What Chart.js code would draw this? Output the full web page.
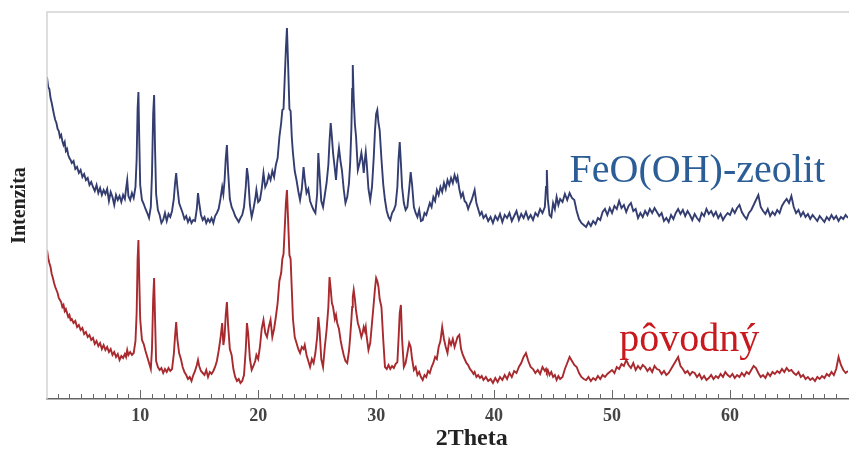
<!DOCTYPE html>
<html>
<head>
<meta charset="utf-8">
<title>XRD - FeO(OH)-zeolit</title>
<script src="https://cdn.jsdelivr.net/npm/chart.js@4.4.0/dist/chart.umd.min.js"></script>
<style>
    html, body { margin: 0; padding: 0; background: #fff; }
    #wrap { width: 849px; height: 452px; position: relative; }
</style>
</head>
<body>
<div id="wrap"><canvas id="xrdChart"></canvas></div>
<script>
// 2Theta positions shared by both patterns
const twoTheta = [
    2.1, 2.2, 2.3, 2.4, 2.5, 2.6, 2.7, 2.8, 2.9, 3.0,
    3.1, 3.2, 3.3, 3.4, 3.5, 3.6, 3.7, 3.8, 3.9, 4.0,
    4.1, 4.2, 4.35, 4.5, 4.65, 4.8, 4.95, 5.1, 5.25, 5.4,
    5.55, 5.7, 5.85, 6.0, 6.15, 6.3, 6.45, 6.6, 6.75, 6.9,
    7.05, 7.2, 7.35, 7.5, 7.65, 7.8, 7.95, 8.1, 8.25, 8.4,
    8.55, 8.7, 8.8, 8.9, 9.0, 9.15, 9.3, 9.45, 9.6, 9.7,
    9.78, 9.85, 9.92, 10.0, 10.15, 10.3, 10.45, 10.6, 10.75, 10.9,
    11.0, 11.1, 11.18, 11.26, 11.35, 11.5, 11.65, 11.8, 11.95, 12.1,
    12.25, 12.4, 12.55, 12.7, 12.85, 12.95, 13.05, 13.15, 13.3, 13.45,
    13.6, 13.75, 13.9, 14.05, 14.2, 14.35, 14.5, 14.65, 14.8, 14.9,
    15.0, 15.15, 15.3, 15.45, 15.6, 15.75, 15.9, 16.05, 16.2, 16.35,
    16.5, 16.65, 16.8, 16.95, 17.05, 17.15, 17.25, 17.35, 17.45, 17.6,
    17.75, 17.9, 18.05, 18.2, 18.35, 18.5, 18.65, 18.8, 18.95, 19.05,
    19.15, 19.3, 19.45, 19.6, 19.75, 19.85, 20.0, 20.15, 20.3, 20.45,
    20.6, 20.75, 20.9, 21.05, 21.2, 21.35, 21.5, 21.65, 21.8, 21.95,
    22.05, 22.15, 22.25, 22.35, 22.44, 22.55, 22.65, 22.75, 22.85, 22.95,
    23.1, 23.25, 23.4, 23.55, 23.7, 23.85, 23.95, 24.1, 24.25, 24.4,
    24.55, 24.7, 24.85, 25.0, 25.1, 25.2, 25.35, 25.5, 25.65, 25.8,
    25.95, 26.05, 26.15, 26.25, 26.35, 26.5, 26.6, 26.7, 26.85, 27.0,
    27.1, 27.25, 27.4, 27.55, 27.7, 27.8, 27.9, 27.97, 28.02, 28.1,
    28.2, 28.3, 28.45, 28.6, 28.75, 28.85, 28.95, 29.05, 29.12, 29.2,
    29.35, 29.5, 29.65, 29.8, 29.9, 30.0, 30.1, 30.2, 30.3, 30.45,
    30.6, 30.75, 30.9, 31.05, 31.2, 31.35, 31.5, 31.65, 31.8, 31.9,
    32.0, 32.1, 32.2, 32.35, 32.5, 32.65, 32.8, 32.93, 33.05, 33.2,
    33.35, 33.5, 33.65, 33.8, 33.95, 34.1, 34.25, 34.4, 34.55, 34.7,
    34.85, 35.0, 35.15, 35.3, 35.45, 35.6, 35.75, 35.9, 36.05, 36.2,
    36.35, 36.5, 36.65, 36.8, 36.9, 37.05, 37.2, 37.35, 37.5, 37.65,
    37.8, 37.95, 38.1, 38.25, 38.35, 38.5, 38.65, 38.8, 38.95, 39.1,
    39.3, 39.5, 39.7, 39.9, 40.1, 40.3, 40.5, 40.7, 40.9, 41.1,
    41.3, 41.5, 41.7, 41.9, 42.1, 42.3, 42.5, 42.7, 42.9, 43.1,
    43.3, 43.5, 43.7, 43.9, 44.1, 44.3, 44.4, 44.47, 44.55, 44.7,
    44.85, 45.0, 45.15, 45.3, 45.45, 45.6, 45.8, 46.0, 46.2, 46.4,
    46.6, 46.8, 47.0, 47.2, 47.4, 47.6, 47.8, 48.0, 48.2, 48.4,
    48.6, 48.8, 49.0, 49.2, 49.4, 49.6, 49.8, 50.0, 50.2, 50.4,
    50.6, 50.8, 51.0, 51.2, 51.4, 51.6, 51.8, 52.0, 52.2, 52.4,
    52.6, 52.8, 53.0, 53.2, 53.4, 53.6, 53.8, 54.0, 54.2, 54.4,
    54.6, 54.8, 55.0, 55.2, 55.4, 55.6, 55.8, 56.0, 56.2, 56.4,
    56.6, 56.8, 57.0, 57.2, 57.4, 57.6, 57.8, 58.0, 58.2, 58.4,
    58.6, 58.8, 59.0, 59.2, 59.4, 59.6, 59.8, 60.0, 60.2, 60.4,
    60.6, 60.8, 61.0, 61.2, 61.4, 61.6, 61.8, 62.0, 62.2, 62.4,
    62.6, 62.8, 63.0, 63.2, 63.4, 63.6, 63.8, 64.0, 64.2, 64.4,
    64.6, 64.8, 65.0, 65.2, 65.4, 65.6, 65.8, 66.0, 66.2, 66.4,
    66.6, 66.8, 67.0, 67.2, 67.4, 67.6, 67.8, 68.0, 68.2, 68.4,
    68.6, 68.8, 69.0, 69.2, 69.4, 69.6, 69.8, 70.0
];

// FeO(OH)-zeolit (upper pattern), arbitrary intensity units
const zeolitCounts = [
    322, 312, 310, 301, 296, 290, 284, 279, 276, 270,
    268, 262, 264, 258, 254, 257, 248, 250, 244, 241,
    239, 236, 238, 230, 232, 226, 229, 222, 225, 219,
    221, 214, 217, 212, 208, 214, 206, 211, 204, 209,
    205, 210, 198, 207, 202, 194, 204, 199, 203, 197,
    204, 200, 210, 219, 203, 199, 206, 201, 212, 240,
    290, 307, 260, 214, 199, 195, 190, 186, 181, 192,
    225, 285, 304, 250, 205, 189, 184, 176, 179, 186,
    178, 185, 182, 188, 200, 215, 226, 212, 196, 191,
    186, 180, 183, 177, 181, 176, 179, 178, 190, 206,
    196, 184, 179, 182, 176, 180, 177, 181, 176, 183,
    186, 190, 200, 212, 205, 218, 240, 254, 228, 200,
    192, 188, 183, 180, 177, 181, 184, 192, 212, 231,
    222, 194, 182, 190, 200, 209, 197, 199, 210, 226,
    212, 216, 224, 219, 228, 222, 234, 241, 262, 276,
    289, 290, 320, 350, 371, 330, 290, 288, 262, 246,
    228, 219, 208, 199, 210, 232, 220, 206, 210, 198,
    193, 189, 186, 205, 246, 226, 198, 192, 204, 216,
    234, 258, 276, 262, 246, 230, 219, 236, 251, 236,
    229, 210, 196, 202, 216, 236, 270, 310, 334, 300,
    275, 262, 229, 236, 246, 238, 226, 240, 247, 236,
    210, 199, 212, 242, 268, 285, 289, 276, 269, 240,
    215, 199, 188, 182, 179, 186, 189, 194, 212, 240,
    257, 236, 212, 196, 189, 192, 210, 227, 214, 192,
    186, 182, 189, 178, 179, 186, 184, 190, 196, 192,
    202, 198, 209, 204, 212, 207, 216, 210, 219, 214,
    221, 216, 224, 218, 222, 210, 202, 206, 198, 196,
    190, 195, 199, 205, 209, 196, 190, 184, 187, 181,
    184, 178, 182, 176, 183, 179, 185, 177, 184, 181,
    186, 178, 183, 188, 179, 185, 181, 187, 180, 184,
    179, 186, 183, 190, 186, 192, 212, 229, 200, 184,
    182, 196, 190, 202, 194, 200, 197, 205, 199, 206,
    201, 199, 188, 180, 176, 174, 172, 177, 173, 178,
    175, 181, 179, 187, 190, 184, 191, 186, 193, 190,
    198, 191, 194, 187, 193, 196, 188, 190, 181, 186,
    182, 188, 184, 190, 186, 191, 187, 183, 186, 178,
    181, 177, 184, 180, 186, 190, 185, 189, 183, 188,
    184, 179, 185, 181, 178, 186, 183, 190, 185, 188,
    183, 187, 181, 185, 179, 183, 186, 184, 190, 186,
    191, 194, 187, 183, 180, 186, 189, 194, 199, 204,
    192, 188, 185, 190, 183, 187, 184, 189, 186, 193,
    197, 200, 196, 203, 192, 186, 189, 183, 187, 182,
    185, 180, 184, 181, 178, 183, 180, 177, 182, 179,
    184, 180, 183, 178, 182, 180, 184, 181
];

// pôvodný (lower pattern)
const povodnyCounts = [
    149, 141, 136, 132, 125, 121, 116, 112, 109, 106,
    101, 99, 97, 92, 94, 88, 90, 86, 82, 84,
    79, 80, 76, 78, 72, 74, 69, 71, 65, 67,
    62, 64, 59, 61, 55, 58, 53, 56, 50, 54,
    49, 52, 47, 50, 44, 47, 42, 45, 39, 43,
    41, 45, 42, 49, 44, 47, 44, 46, 58, 86,
    140, 159, 120, 80, 59, 55, 48, 42, 36, 30,
    50, 100, 121, 80, 38, 32, 29, 31, 26, 30,
    27, 31, 28, 30, 45, 62, 77, 60, 46, 40,
    32, 27, 24, 20, 22, 18, 24, 28, 34, 39,
    33, 28, 26, 24, 29, 22, 27, 25, 28, 32,
    38, 48, 60, 76, 54, 62, 84, 97, 74, 50,
    44, 30, 22, 18, 20, 16, 18, 24, 50, 76,
    66, 40, 29, 33, 38, 44, 40, 52, 70, 79,
    66, 62, 72, 79, 62, 70, 82, 96, 118, 126,
    140, 145, 170, 196, 209, 175, 144, 140, 110, 80,
    62, 56, 50, 46, 52, 50, 54, 44, 38, 32,
    40, 36, 46, 62, 82, 70, 40, 32, 52, 69,
    92, 122, 110, 96, 92, 80, 84, 76, 70, 58,
    52, 44, 38, 36, 48, 62, 79, 92, 102, 109,
    100, 88, 76, 70, 62, 66, 72, 68, 72, 62,
    49, 56, 76, 96, 110, 121, 118, 112, 100, 92,
    60, 32, 30, 34, 30, 33, 31, 35, 37, 60,
    86, 94, 60, 32, 36, 46, 56, 52, 40, 29,
    32, 24, 27, 22, 19, 24, 22, 28, 26, 32,
    36, 42, 40, 52, 58, 72, 60, 52, 46, 59,
    54, 60, 52, 58, 62, 64, 50, 44, 40, 36,
    34, 30, 28, 25, 27, 22, 24, 21, 23, 19,
    22, 18, 20, 16, 21, 17, 22, 19, 24, 20,
    26, 22, 28, 26, 32, 36, 42, 46, 38, 32,
    30, 26, 29, 25, 32, 28, 30, 27, 29, 24,
    27, 22, 24, 19, 23, 20, 22, 30, 36, 42,
    38, 34, 32, 26, 22, 20, 19, 22, 18, 21,
    19, 23, 20, 24, 22, 25, 27, 29, 26, 32,
    30, 35, 33, 39, 34, 31, 36, 29, 33, 30,
    34, 32, 28, 31, 27, 33, 30, 29, 25, 28,
    24, 26, 30, 34, 38, 42, 33, 30, 26, 28,
    24, 27, 26, 22, 25, 20, 23, 19, 21, 24,
    20, 23, 21, 25, 22, 27, 24, 22, 25, 21,
    24, 22, 26, 23, 27, 25, 29, 33, 31, 26,
    22, 24, 21, 26, 23, 27, 25, 28, 26, 30,
    27, 31, 28, 29, 26, 24, 27, 22, 24, 20,
    22, 19, 21, 18, 22, 20, 23, 21, 25, 23,
    27, 24, 30, 42, 34, 29, 26, 28
];

const xLabels = [10, 20, 30, 40, 50, 60];
const seriesNames = ['FeO(OH)-zeolit', 'pôvodný'];

function toPoints(values) {
    return twoTheta.map((t, i) => ({ x: t, y: values[i] }));
}

// frame, inward minor ticks and the in-plot series names
const xrdDecor = {
    id: 'xrdDecor',
    afterDraw(chart) {
        const { ctx, chartArea } = chart;
        const xScale = chart.scales.x;
        const yScale = chart.scales.y;
        ctx.save();

        ctx.strokeStyle = '#d4d4d4';
        ctx.lineWidth = 1.5;
        ctx.beginPath();
        ctx.moveTo(chartArea.left, chartArea.bottom);
        ctx.lineTo(chartArea.left, chartArea.top);
        ctx.lineTo(chartArea.right + 1, chartArea.top);
        ctx.stroke();

        ctx.strokeStyle = '#666';
        ctx.lineWidth = 1;
        for (let t = 3; t < 70; t++) {
            const px = Math.round(xScale.getPixelForValue(t)) + 0.5;
            const len = t % 10 === 0 ? 9 : 5;
            ctx.beginPath();
            ctx.moveTo(px, chartArea.bottom);
            ctx.lineTo(px, chartArea.bottom - len);
            ctx.stroke();
        }

        ctx.font = '40px "Liberation Serif", "DejaVu Serif", serif';
        ctx.textAlign = 'left';
        ctx.textBaseline = 'alphabetic';
        ctx.fillStyle = '#2b5d97';
        ctx.fillText(seriesNames[0], xScale.getPixelForValue(46.4), yScale.getPixelForValue(217));
        ctx.fillStyle = '#c8191e';
        ctx.fillText(seriesNames[1], xScale.getPixelForValue(50.6), yScale.getPixelForValue(48));

        ctx.font = 'bold 24px "Liberation Serif", serif';
        ctx.textAlign = 'center';
        ctx.textBaseline = 'middle';
        ctx.fillStyle = '#222';
        ctx.fillText('2Theta', xScale.getPixelForValue(38.1), chartArea.bottom + 40);

        ctx.restore();
    }
};

function drawChart() {
    new Chart(document.getElementById('xrdChart'), {
        type: 'line',
        data: {
            datasets: [
                {
                    label: seriesNames[0],
                    data: toPoints(zeolitCounts),
                    borderColor: '#333d70',
                    borderWidth: 1.9,
                    pointRadius: 0,
                    tension: 0,
                    fill: false
                },
                {
                    label: seriesNames[1],
                    data: toPoints(povodnyCounts),
                    borderColor: '#a82a2e',
                    borderWidth: 1.9,
                    pointRadius: 0,
                    tension: 0,
                    fill: false
                }
            ]
        },
        options: {
            responsive: true,
            maintainAspectRatio: false,
            animation: false,
            devicePixelRatio: 1,
            layout: { padding: { top: 12, right: 1, left: 0, bottom: 0 } },
            plugins: {
                legend: { display: false },
                tooltip: { enabled: false }
            },
            scales: {
                x: {
                    type: 'linear',
                    min: 2.1,
                    max: 70,
                    afterBuildTicks: (scale) => {
                        scale.ticks = xLabels.map(v => ({ value: v }));
                    },
                    afterFit: (scale) => { scale.height = 53; },
                    grid: { display: false, drawTicks: false },
                    border: { display: true, color: '#666', width: 1.5 },
                    ticks: {
                        padding: 7,
                        color: '#444',
                        font: { family: '"Liberation Serif", serif', size: 18, weight: 'bold' }
                    }
                },
                y: {
                    min: 0,
                    max: 387,
                    afterFit: (scale) => { scale.width = 47; },
                    grid: { display: false, drawTicks: false },
                    border: { display: false },
                    ticks: { display: false },
                    title: {
                        display: true,
                        text: 'Intenzita',
                        color: '#222',
                        padding: { top: 8, bottom: 0 },
                        font: { family: '"Liberation Serif", serif', size: 20, weight: 'bold' }
                    }
                }
            }
        },
        plugins: [xrdDecor]
    });
}

document.addEventListener('DOMContentLoaded', () => {
    drawChart();
});
</script>
</body>
</html>
